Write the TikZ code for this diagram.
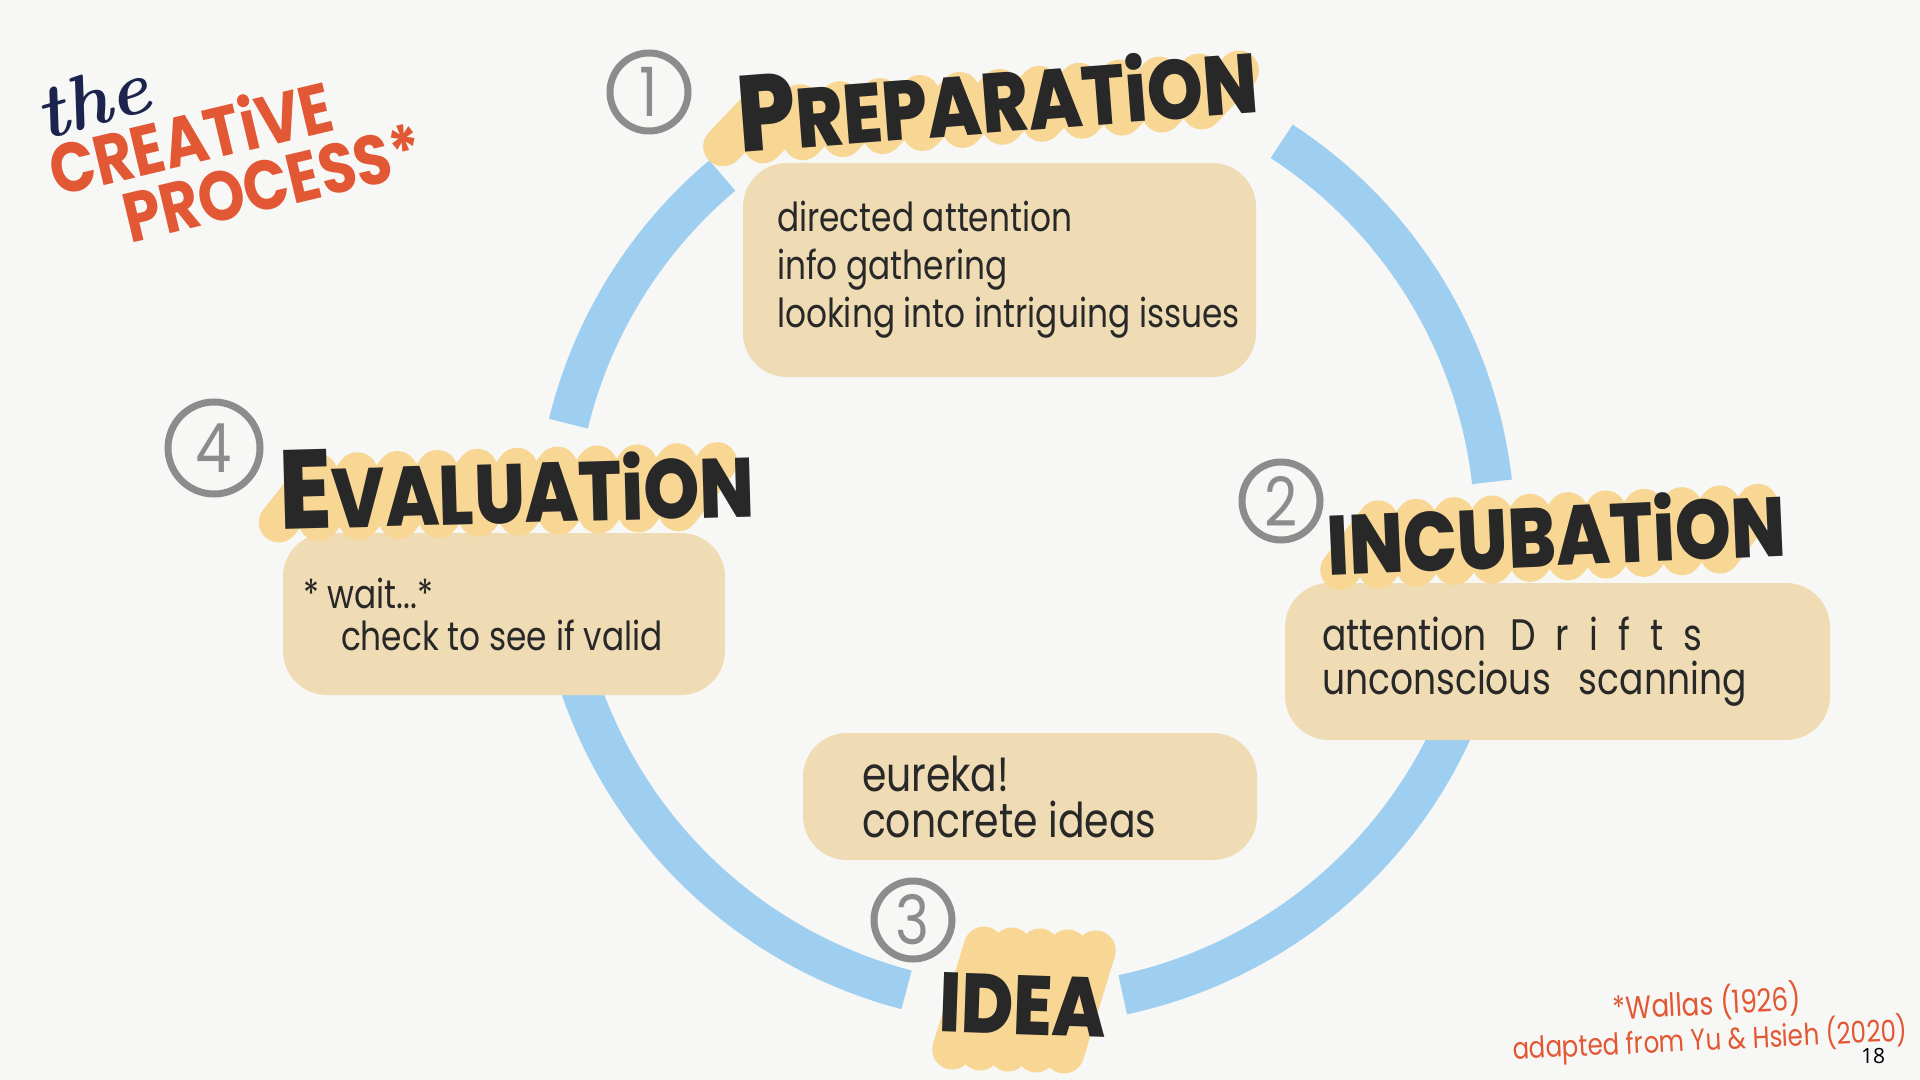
\documentclass[tikz,border=0pt]{standalone}
\usepackage{fontspec}
\usepackage{tikz}
\usetikzlibrary{positioning}
\newfontfamily\headfont{Poppins}[FakeStretch=0.85, BoldFont={Poppins ExtraBold}]
\newfontfamily\titlefont{Poppins}[FakeStretch=0.85]
\newfontfamily\notefont{Poppins}[FakeStretch=0.82]
\newfontfamily\pagefont{Open Sans}
\definecolor{mypaper}{RGB}{247,247,245}
\definecolor{myring}{RGB}{158,207,240}
\definecolor{mytan}{RGB}{239,220,180}
\definecolor{myhilite}{RGB}{248,215,148}
\definecolor{myink}{RGB}{40,40,40}
\definecolor{mygrey}{RGB}{140,140,140}
\definecolor{myorange}{RGB}{226,88,52}
\definecolor{mynavy}{RGB}{28,36,78}
\tikzset{
  ring/.style={line width=20pt, color=myring, line cap=butt},
  notebox/.style={rectangle, fill=mytan, rounded corners=22pt, inner sep=0pt},
  note/.style={align=left, text=myink, inner sep=0pt,
    font=\notefont\fontsize{20}{24}\selectfont},
  stage/.style={text=myink, inner sep=0pt,
    font=\headfont\bfseries\fontsize{42}{42}\selectfont},
  hilite/.style={line width=20pt, color=myhilite, line cap=round},
  numcircle/.style={circle, draw=mygrey, line width=3.5pt, minimum size=39pt,
    inner sep=0pt, text=mygrey, font=\titlefont\fontsize{34}{34}\selectfont},
  title/.style={text=myorange, inner sep=0pt,
    font=\titlefont\bfseries\fontsize{35}{35}\selectfont},
  cite/.style={text=myorange, inner sep=0pt,
    font=\notefont\fontsize{15}{15}\selectfont}
}
\begin{document}
\begin{tikzpicture}[x=0.5pt, y=-0.5pt]
  \useasboundingbox (0,0) rectangle (1920,1080);
  \fill[mypaper] (0,0) rectangle (1920,1080);

  % Cycle ring
  \coordinate (hub) at (1025,535);
  \draw[ring] (hub) ++(-56.9:470) arc[start angle=-56.9, end angle=-6.5, radius=470];
  \draw[ring] (hub) ++(20:470) arc[start angle=20, end angle=78, radius=470];
  \draw[ring] (hub) ++(104.6:470) arc[start angle=104.6, end angle=166, radius=470];
  \draw[ring] (hub) ++(193.7:470) arc[start angle=193.7, end angle=229.9, radius=470];

  % Note boxes
  \node[notebox, minimum width=256.5pt, minimum height=107pt] (prepbox) at (999.5,270) {};
  \node[notebox, minimum width=221pt, minimum height=81pt] (evalbox) at (504,614) {};
  \node[notebox, minimum width=272.5pt, minimum height=78.5pt] (incbox) at (1557.5,661.5) {};
  \node[notebox, minimum width=227pt, minimum height=63.5pt] (ideabox) at (1030,796.5) {};

  % Highlighter strokes
  \begin{scope}[shift={(986,108)}, rotate=4.4]
    \foreach \s in {-245,-205,...,245}
      \draw[hilite] (\s-20,18) -- (\s+20,-18);
  \end{scope}
  \begin{scope}[shift={(508,492)}, rotate=1.6]
    \foreach \s in {-210,-170,...,210}
      \draw[hilite] (\s-20,24) -- (\s+20,-24);
  \end{scope}
  \begin{scope}[shift={(1549,537)}, rotate=2.5]
    \foreach \s in {-190,-152,...,190}
      \draw[hilite] (\s-20,24) -- (\s+20,-24);
  \end{scope}
  \begin{scope}[shift={(1024,1000)}, rotate=-2]
    \foreach \s in {-56,-28,...,56}
      \draw[hilite] (\s-14,52) -- (\s+14,-52);
  \end{scope}

  % Stage labels
  \node[stage, rotate=4.4] (prep) at (997,95) {{\fontsize{54}{54}\selectfont P}REPARATiON};
  \node[stage, rotate=1.6] (eval) at (517,484) {{\fontsize{56}{56}\selectfont E}VALUATiON};
  \node[stage, rotate=2.5] (incub) at (1556,532) {INCUBATiON};
  \node[stage, rotate=-2] (idea) at (1023,1005) {IDEA};

  % Notes
  \node[note, right=17pt of prepbox.west] (prepnote)
    {directed attention\\info gathering\\looking into intriguing issues};
  \node[note, right=10pt of evalbox.west, font=\notefont\fontsize{20}{21}\selectfont] (evalnote)
    {* wait...*\\\hspace*{19pt}check to see if valid};
  \node[note, right=18.5pt of incbox.west, font=\notefont\fontsize{22}{22}\selectfont] (incnote)
    {attention\hspace{12pt}D\hspace{10pt}r\hspace{10pt}i\hspace{10pt}f\hspace{10pt}t\hspace{10pt}s\\unconscious\hspace{14pt}scanning};
  \node[note, right=29.5pt of ideabox.west, font=\notefont\fontsize{24}{23}\selectfont] (ideanote)
    {eureka!\\concrete ideas};

  % Step numbers
  \node[numcircle] (one) at (649,92) {1};
  \node[numcircle] (two) at (1281,501) {2};
  \node[numcircle] (three) at (913,920) {3};
  \node[numcircle, minimum size=46pt] (four) at (214,448) {4};

  % Title
  \node[font=\rmfamily\bfseries\itshape\fontsize{38}{38}\selectfont, text=mynavy,
    rotate=16, inner sep=0pt] (the) at (92,100) {the};
  \node[title, rotate=13.4] (creative) at (190,136) {CREATiVE};
  \node[title, rotate=13.4] (process) at (273,183) {PROCESS*};

  % Sources and page number
  \node[cite, font=\notefont\fontsize{16}{16}\selectfont, rotate=3] (wallas) at (1707,1003) {*Wallas (1926)};
  \node[cite, rotate=2.7] (yuhsieh) at (1710,1040) {adapted from Yu \& Hsieh (2020)};
  \node[font=\pagefont\fontsize{10.5}{12}\selectfont, text=black, inner sep=0pt] (page)
    at (1873,1056) {18};
\end{tikzpicture}
\end{document}
